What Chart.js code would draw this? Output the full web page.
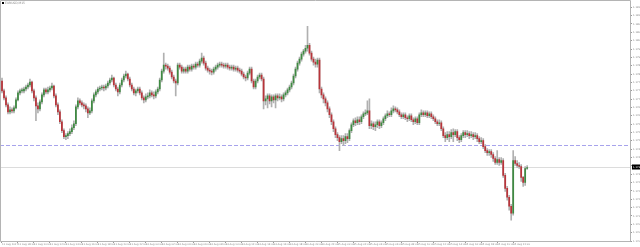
<!DOCTYPE html>
<html>
<head>
<meta charset="utf-8">
<script src="https://cdn.jsdelivr.net/npm/chart.js@4.4.0/dist/chart.umd.min.js"></script>
<style>
  html, body { margin: 0; padding: 0; background: #fff; }
  canvas { display: block; }
</style>
</head>
<body>
<canvas id="chart" width="640" height="247"></canvas>
<script>
const symbol = "EURUSD,M15";

// OHLC, one entry per bar
const opens = [
  1.17805,1.17755,1.17720,1.17685,1.17650,1.17660,1.17655,1.17670,1.17710,1.17745,
  1.17755,1.17755,1.17765,1.17775,1.17785,1.17800,1.17755,1.17720,1.17680,1.17665,
  1.17700,1.17735,1.17760,1.17750,1.17760,1.17770,1.17780,1.17730,1.17685,1.17650,
  1.17600,1.17555,1.17525,1.17530,1.17540,1.17550,1.17570,1.17590,1.17675,1.17705,
  1.17695,1.17685,1.17680,1.17665,1.17645,1.17655,1.17705,1.17735,1.17750,1.17765,
  1.17770,1.17775,1.17770,1.17780,1.17795,1.17810,1.17820,1.17785,1.17765,1.17750,
  1.17785,1.17810,1.17830,1.17840,1.17815,1.17785,1.17765,1.17745,1.17755,1.17765,
  1.17745,1.17720,1.17710,1.17725,1.17730,1.17745,1.17735,1.17730,1.17750,1.17765,
  1.17810,1.17855,1.17885,1.17880,1.17870,1.17850,1.17825,1.17805,1.17795,1.17885,
  1.17875,1.17855,1.17865,1.17855,1.17875,1.17865,1.17880,1.17875,1.17890,1.17885,
  1.17905,1.17920,1.17895,1.17870,1.17860,1.17855,1.17850,1.17865,1.17875,1.17885,
  1.17890,1.17885,1.17880,1.17885,1.17875,1.17870,1.17875,1.17865,1.17870,1.17860,
  1.17855,1.17840,1.17825,1.17820,1.17845,1.17865,1.17805,1.17775,1.17805,1.17825,
  1.17835,1.17815,1.17705,1.17715,1.17730,1.17705,1.17725,1.17710,1.17730,1.17720,
  1.17725,1.17715,1.17735,1.17745,1.17760,1.17775,1.17795,1.17830,1.17865,1.17895,
  1.17915,1.17940,1.17955,1.17970,1.17985,1.17945,1.17915,1.17900,1.17890,1.17910,
  1.17765,1.17735,1.17715,1.17695,1.17665,1.17635,1.17600,1.17565,1.17535,1.17520,
  1.17500,1.17515,1.17505,1.17525,1.17515,1.17555,1.17585,1.17605,1.17595,1.17610,
  1.17600,1.17625,1.17640,1.17645,1.17655,1.17580,1.17590,1.17575,1.17585,1.17600,
  1.17580,1.17595,1.17615,1.17630,1.17640,1.17635,1.17655,1.17665,1.17660,1.17650,
  1.17635,1.17625,1.17635,1.17620,1.17615,1.17630,1.17610,1.17600,1.17615,1.17595,
  1.17635,1.17645,1.17635,1.17645,1.17630,1.17640,1.17625,1.17615,1.17600,1.17590,
  1.17595,1.17565,1.17530,1.17520,1.17535,1.17525,1.17545,1.17535,1.17550,1.17520,
  1.17510,1.17530,1.17545,1.17535,1.17540,1.17530,1.17535,1.17525,1.17530,1.17515,
  1.17500,1.17505,1.17475,1.17455,1.17445,1.17450,1.17435,1.17415,1.17395,1.17410,
  1.17395,1.17405,1.17330,1.17265,1.17220,1.17175,1.17140,1.17405,1.17390,1.17380,
  1.17375,1.17320,1.17295,1.17365
];
const highs = [
  1.17820,1.17765,1.17730,1.17695,1.17675,1.17670,1.17680,1.17720,1.17755,1.17765,
  1.17770,1.17775,1.17785,1.17795,1.17815,1.17805,1.17765,1.17730,1.17695,1.17710,
  1.17745,1.17770,1.17770,1.17775,1.17780,1.17795,1.17785,1.17740,1.17695,1.17660,
  1.17610,1.17565,1.17540,1.17550,1.17565,1.17585,1.17605,1.17685,1.17720,1.17715,
  1.17705,1.17695,1.17690,1.17675,1.17670,1.17715,1.17745,1.17760,1.17775,1.17780,
  1.17785,1.17785,1.17790,1.17805,1.17820,1.17835,1.17825,1.17795,1.17775,1.17795,
  1.17820,1.17840,1.17855,1.17845,1.17825,1.17795,1.17775,1.17765,1.17775,1.17775,
  1.17755,1.17730,1.17740,1.17745,1.17760,1.17755,1.17750,1.17760,1.17775,1.17820,
  1.17865,1.17945,1.17895,1.17890,1.17880,1.17860,1.17835,1.17815,1.17895,1.17895,
  1.17885,1.17875,1.17875,1.17885,1.17885,1.17890,1.17890,1.17900,1.17900,1.17915,
  1.17945,1.17930,1.17905,1.17880,1.17870,1.17865,1.17875,1.17885,1.17895,1.17900,
  1.17900,1.17895,1.17895,1.17895,1.17885,1.17885,1.17885,1.17880,1.17880,1.17870,
  1.17865,1.17850,1.17835,1.17855,1.17875,1.17875,1.17815,1.17815,1.17835,1.17845,
  1.17845,1.17825,1.17730,1.17740,1.17740,1.17735,1.17735,1.17740,1.17740,1.17740,
  1.17735,1.17745,1.17755,1.17770,1.17785,1.17805,1.17840,1.17875,1.17905,1.17925,
  1.17950,1.17965,1.17985,1.18080,1.17995,1.17955,1.17925,1.17915,1.17920,1.17920,
  1.17775,1.17745,1.17725,1.17705,1.17675,1.17645,1.17610,1.17575,1.17545,1.17530,
  1.17530,1.17530,1.17540,1.17540,1.17565,1.17595,1.17615,1.17620,1.17625,1.17625,
  1.17635,1.17650,1.17660,1.17705,1.17715,1.17605,1.17600,1.17600,1.17610,1.17610,
  1.17605,1.17625,1.17640,1.17655,1.17650,1.17670,1.17680,1.17675,1.17670,1.17660,
  1.17645,1.17645,1.17645,1.17630,1.17640,1.17640,1.17620,1.17625,1.17625,1.17645,
  1.17660,1.17655,1.17655,1.17655,1.17650,1.17650,1.17635,1.17625,1.17610,1.17610,
  1.17605,1.17575,1.17545,1.17550,1.17550,1.17560,1.17565,1.17560,1.17560,1.17530,
  1.17540,1.17555,1.17555,1.17555,1.17550,1.17550,1.17545,1.17545,1.17540,1.17525,
  1.17520,1.17515,1.17485,1.17465,1.17460,1.17460,1.17445,1.17425,1.17455,1.17420,
  1.17420,1.17415,1.17340,1.17275,1.17230,1.17185,1.17455,1.17425,1.17405,1.17395,
  1.17385,1.17325,1.17375,1.17380
];
const lows = [
  1.17745,1.17710,1.17675,1.17640,1.17640,1.17645,1.17645,1.17665,1.17705,1.17735,
  1.17745,1.17745,1.17755,1.17765,1.17775,1.17745,1.17705,1.17605,1.17645,1.17655,
  1.17690,1.17725,1.17740,1.17740,1.17750,1.17760,1.17720,1.17675,1.17635,1.17590,
  1.17545,1.17515,1.17510,1.17515,1.17530,1.17540,1.17560,1.17580,1.17665,1.17685,
  1.17675,1.17665,1.17650,1.17620,1.17635,1.17645,1.17695,1.17725,1.17740,1.17755,
  1.17760,1.17755,1.17760,1.17770,1.17785,1.17800,1.17775,1.17755,1.17730,1.17740,
  1.17775,1.17800,1.17820,1.17805,1.17775,1.17755,1.17735,1.17730,1.17745,1.17735,
  1.17710,1.17695,1.17700,1.17715,1.17720,1.17725,1.17715,1.17720,1.17740,1.17755,
  1.17800,1.17845,1.17865,1.17860,1.17840,1.17815,1.17795,1.17730,1.17785,1.17865,
  1.17845,1.17845,1.17845,1.17845,1.17855,1.17855,1.17865,1.17865,1.17875,1.17875,
  1.17895,1.17885,1.17860,1.17850,1.17840,1.17835,1.17840,1.17855,1.17865,1.17875,
  1.17875,1.17870,1.17870,1.17865,1.17860,1.17860,1.17855,1.17855,1.17850,1.17845,
  1.17830,1.17815,1.17805,1.17810,1.17835,1.17795,1.17765,1.17765,1.17795,1.17815,
  1.17805,1.17665,1.17685,1.17670,1.17690,1.17675,1.17695,1.17670,1.17705,1.17710,
  1.17700,1.17705,1.17725,1.17735,1.17750,1.17765,1.17785,1.17820,1.17855,1.17885,
  1.17905,1.17930,1.17945,1.17955,1.17935,1.17905,1.17885,1.17875,1.17875,1.17745,
  1.17720,1.17695,1.17680,1.17650,1.17620,1.17585,1.17550,1.17520,1.17505,1.17455,
  1.17490,1.17480,1.17490,1.17495,1.17505,1.17545,1.17575,1.17580,1.17585,1.17585,
  1.17590,1.17615,1.17630,1.17635,1.17565,1.17565,1.17560,1.17555,1.17570,1.17565,
  1.17570,1.17585,1.17605,1.17620,1.17625,1.17625,1.17645,1.17650,1.17640,1.17625,
  1.17615,1.17615,1.17610,1.17600,1.17605,1.17600,1.17585,1.17590,1.17585,1.17585,
  1.17625,1.17625,1.17625,1.17620,1.17620,1.17615,1.17605,1.17590,1.17580,1.17580,
  1.17555,1.17520,1.17500,1.17510,1.17500,1.17515,1.17500,1.17525,1.17505,1.17495,
  1.17500,1.17520,1.17520,1.17525,1.17515,1.17520,1.17510,1.17515,1.17500,1.17490,
  1.17490,1.17465,1.17445,1.17430,1.17430,1.17420,1.17400,1.17385,1.17385,1.17380,
  1.17385,1.17320,1.17250,1.17205,1.17155,1.17105,1.17130,1.17380,1.17370,1.17365,
  1.17300,1.17275,1.17280,1.17360
];
const closes = [
  1.17755,1.17720,1.17685,1.17650,1.17660,1.17655,1.17670,1.17710,1.17745,1.17755,
  1.17755,1.17765,1.17775,1.17785,1.17800,1.17755,1.17720,1.17680,1.17665,1.17700,
  1.17735,1.17760,1.17750,1.17760,1.17770,1.17780,1.17730,1.17685,1.17650,1.17600,
  1.17555,1.17525,1.17530,1.17540,1.17550,1.17570,1.17590,1.17675,1.17705,1.17695,
  1.17685,1.17680,1.17665,1.17645,1.17655,1.17705,1.17735,1.17750,1.17765,1.17770,
  1.17775,1.17770,1.17780,1.17795,1.17810,1.17820,1.17785,1.17765,1.17750,1.17785,
  1.17810,1.17830,1.17840,1.17815,1.17785,1.17765,1.17745,1.17755,1.17765,1.17745,
  1.17720,1.17710,1.17725,1.17730,1.17745,1.17735,1.17730,1.17750,1.17765,1.17810,
  1.17855,1.17885,1.17880,1.17870,1.17850,1.17825,1.17805,1.17795,1.17885,1.17875,
  1.17855,1.17865,1.17855,1.17875,1.17865,1.17880,1.17875,1.17890,1.17885,1.17905,
  1.17920,1.17895,1.17870,1.17860,1.17855,1.17850,1.17865,1.17875,1.17885,1.17890,
  1.17885,1.17880,1.17885,1.17875,1.17870,1.17875,1.17865,1.17870,1.17860,1.17855,
  1.17840,1.17825,1.17820,1.17845,1.17865,1.17805,1.17775,1.17805,1.17825,1.17835,
  1.17815,1.17705,1.17715,1.17730,1.17705,1.17725,1.17710,1.17730,1.17720,1.17725,
  1.17715,1.17735,1.17745,1.17760,1.17775,1.17795,1.17830,1.17865,1.17895,1.17915,
  1.17940,1.17955,1.17970,1.17985,1.17945,1.17915,1.17900,1.17890,1.17910,1.17765,
  1.17735,1.17715,1.17695,1.17665,1.17635,1.17600,1.17565,1.17535,1.17520,1.17500,
  1.17515,1.17505,1.17525,1.17515,1.17555,1.17585,1.17605,1.17595,1.17610,1.17600,
  1.17625,1.17640,1.17645,1.17655,1.17580,1.17590,1.17575,1.17585,1.17600,1.17580,
  1.17595,1.17615,1.17630,1.17640,1.17635,1.17655,1.17665,1.17660,1.17650,1.17635,
  1.17625,1.17635,1.17620,1.17615,1.17630,1.17610,1.17600,1.17615,1.17595,1.17635,
  1.17645,1.17635,1.17645,1.17630,1.17640,1.17625,1.17615,1.17600,1.17590,1.17595,
  1.17565,1.17530,1.17520,1.17535,1.17525,1.17545,1.17535,1.17550,1.17520,1.17510,
  1.17530,1.17545,1.17535,1.17540,1.17530,1.17535,1.17525,1.17530,1.17515,1.17500,
  1.17505,1.17475,1.17455,1.17445,1.17450,1.17435,1.17415,1.17395,1.17410,1.17395,
  1.17405,1.17330,1.17265,1.17220,1.17175,1.17140,1.17405,1.17390,1.17380,1.17375,
  1.17320,1.17295,1.17365,1.17370
];

const priceTicks = [
  1.17000,1.17042,1.17084,1.17126,1.17168,1.17210,1.17252,1.17294,1.17336,1.17378,
  1.17420,1.17462,1.17504,1.17546,1.17588,1.17630,1.17672,1.17714,1.17756,1.17798,
  1.17840,1.17882,1.17924,1.17966,1.18008,1.18050,1.18092,1.18134,1.18176
];
const timeLabels = [
  "11 Aug 2017","11 Aug 08:00","11 Aug 10:00","11 Aug 12:00","11 Aug 14:00","11 Aug 16:00",
  "11 Aug 18:00","11 Aug 20:00","11 Aug 22:00","14 Aug 00:00","14 Aug 02:00","14 Aug 04:00",
  "14 Aug 06:00","14 Aug 08:00","14 Aug 10:00","14 Aug 12:00","14 Aug 14:00","14 Aug 16:00",
  "14 Aug 18:00","14 Aug 20:00","14 Aug 22:00","15 Aug 00:00","15 Aug 02:00","15 Aug 04:00",
  "15 Aug 06:00","15 Aug 08:00","15 Aug 10:00","15 Aug 12:00","15 Aug 14:00","15 Aug 16:00",
  "15 Aug 18:00","15 Aug 20:00","15 Aug 22:00"
];
const barsPerLabel = 8;
const emptyBars = 51;        // free space to the right of the last bar
const levelLine = 1.17485;   // dashed horizontal line
const bidPrice = 1.17370;

const n = closes.length;
const labels = [];
for (let i = 0; i < n + emptyBars; i++) labels.push(i);

const wicks = lows.map((l, i) => [l, highs[i]]);
const bodies = opens.map((o, i) => [o, closes[i]]);
const bodyColors = opens.map((o, i) => closes[i] >= o ? '#3f8a42' : '#b8343a');
const isLabelTick = i => i < n && i % barsPerLabel === 0;

const overlay = {
  id: 'overlay',
  beforeDatasetsDraw(chart) {
    const { ctx, chartArea: a, scales: { y } } = chart;
    ctx.save();
    ctx.lineWidth = 1;
    let py = Math.round(y.getPixelForValue(bidPrice)) + 0.5;
    ctx.strokeStyle = '#dcdcdc';
    ctx.beginPath(); ctx.moveTo(0, py); ctx.lineTo(a.right, py); ctx.stroke();
    py = Math.round(y.getPixelForValue(levelLine)) + 0.5;
    ctx.strokeStyle = '#a7a3ec';
    ctx.setLineDash([4, 2]);
    ctx.beginPath(); ctx.moveTo(0, py); ctx.lineTo(a.right, py); ctx.stroke();
    ctx.restore();
  },
  afterDraw(chart) {
    const { ctx, scales: { y } } = chart;
    ctx.save();
    // frame
    ctx.strokeStyle = '#b4b4b4';
    ctx.lineWidth = 1;
    ctx.beginPath();
    ctx.moveTo(0.5, 241.5); ctx.lineTo(0.5, 0.5); ctx.lineTo(630.5, 0.5);
    ctx.lineTo(630.5, 241.5); ctx.lineTo(0.5, 241.5);
    ctx.stroke();
    // bid price box
    const py = y.getPixelForValue(bidPrice);
    ctx.fillStyle = '#000';
    ctx.fillRect(632, Math.round(py) - 2.5, 8, 5);
    ctx.fillStyle = '#fff';
    ctx.font = '2.5px "DejaVu Sans"';
    ctx.textBaseline = 'middle';
    ctx.fillText(bidPrice.toFixed(5), 633, py);
    // symbol caption
    ctx.fillStyle = '#000';
    ctx.fillRect(2, 2, 2, 2);
    ctx.fillStyle = '#888';
    ctx.font = '3px "DejaVu Sans"';
    ctx.fillText(symbol, 5, 3);
    ctx.restore();
  }
};

new Chart(document.getElementById('chart'), {
  type: 'bar',
  data: {
    labels: labels,
    datasets: [
      { data: bodies, backgroundColor: bodyColors, barThickness: 1.1, minBarLength: 1,
        grouped: false, order: 0, borderWidth: 0 },
      { data: wicks, backgroundColor: '#b0b0b0', barThickness: 1,
        grouped: false, order: 1, borderWidth: 0 }
    ]
  },
  options: {
    responsive: false,
    animation: false,
    devicePixelRatio: 1,
    layout: { padding: { left: 1, top: 1, right: 0, bottom: 0 } },
    plugins: { legend: { display: false }, tooltip: { enabled: false } },
    scales: {
      x: {
        offset: true,
        afterFit(s) { s.height = 6; },
        ticks: {
          autoSkip: false, maxRotation: 0, minRotation: 0, align: 'start', padding: 0,
          font: { size: 2.5, family: 'DejaVu Sans' }, color: '#888',
          callback: (v, i) => isLabelTick(i) ? timeLabels[i / barsPerLabel] : ''
        },
        grid: {
          drawOnChartArea: false, offset: false, tickLength: 2,
          color: c => isLabelTick(c.index) ? '#999' : 'rgba(0,0,0,0)'
        },
        border: { display: false }
      },
      y: {
        position: 'right',
        min: 1.17000,
        max: 1.18200,
        afterFit(s) { s.width = 10; },
        afterBuildTicks(s) { s.ticks = priceTicks.map(v => ({ value: v })); },
        ticks: {
          autoSkip: false, padding: 1,
          font: { size: 2.5, family: 'DejaVu Sans' }, color: '#888',
          callback: v => v.toFixed(5)
        },
        grid: { drawOnChartArea: false, tickLength: 2, color: '#999' },
        border: { display: false }
      }
    }
  },
  plugins: [overlay]
});
</script>
</body>
</html>
